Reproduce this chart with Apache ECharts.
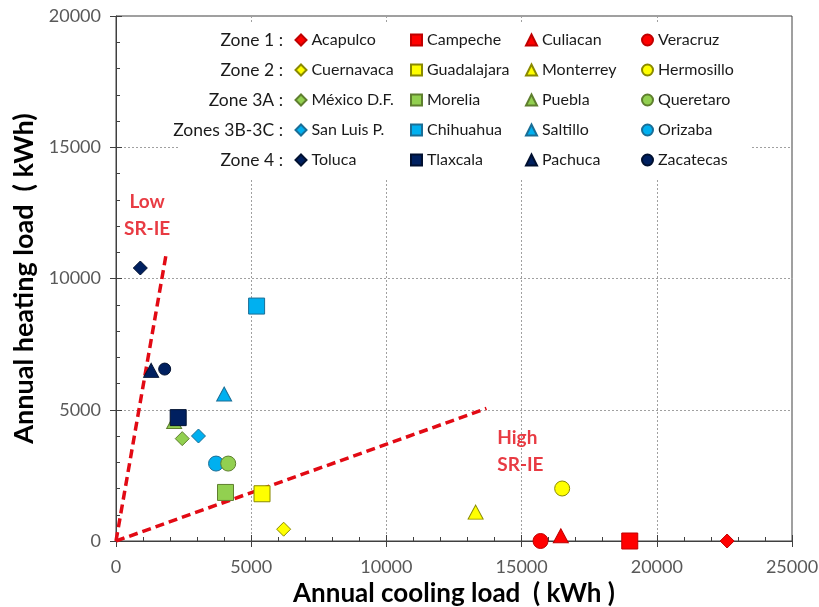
<!DOCTYPE html>
<html><head><meta charset="utf-8">
<script src="https://cdn.jsdelivr.net/npm/echarts@6/dist/echarts.min.js"></script>
<style>html,body{margin:0;padding:0;background:#fff}#c{width:819px;height:607px}</style>
</head><body><div id="c"></div>
<script>
// ---- data ----
const zoneLabels = ["Zone 1 :", "Zone 2 :", "Zone 3A :", "Zones 3B-3C :", "Zone 4 :"];
const zone1Cities = ["Acapulco", "Campeche", "Culiacan", "Veracruz"];
const zone2Cities = ["Cuernavaca", "Guadalajara", "Monterrey", "Hermosillo"];
const zone3ACities = ["México D.F.", "Morelia", "Puebla", "Queretaro"];
const zone3BCities = ["San Luis P.", "Chihuahua", "Saltillo", "Orizaba"];
const zone4Cities = ["Toluca", "Tlaxcala", "Pachuca", "Zacatecas"];
// annual cooling load (kWh), same order as cities
const zone1Cooling = [22600, 19000, 16450, 15700];
const zone2Cooling = [6200, 5400, 13300, 16500];
const zone3ACooling = [2450, 4050, 2150, 4150];
const zone3BCooling = [3050, 5200, 4000, 3700];
const zone4Cooling = [900, 2300, 1300, 1800];
// annual heating load (kWh)
const zone1Heating = [0, 0, 200, 0];
const zone2Heating = [450, 1800, 1100, 2000];
const zone3AHeating = [3900, 1850, 4550, 2950];
const zone3BHeating = [4000, 8950, 5600, 2950];
const zone4Heating = [10400, 4700, 6500, 6550];
// SR-IE boundary lines
const lowLineCooling = [0, 1850];
const lowLineHeating = [0, 10900];
const highLineCooling = [0, 13700];
const highLineHeating = [0, 5050];
// annotation labels
const annotationTexts = ["Low\nSR-IE", "High\nSR-IE"];
const annotationCooling = [1150, 14100];
const annotationHeating = [12400, 3420];
const xAxisTitle = "Annual cooling load  ( kWh )";
const yAxisTitle = "Annual heating load  ( kWh)";

// ---- styling ----
const zoneCities = [zone1Cities, zone2Cities, zone3ACities, zone3BCities, zone4Cities];
const zoneCooling = [zone1Cooling, zone2Cooling, zone3ACooling, zone3BCooling, zone4Cooling];
const zoneHeating = [zone1Heating, zone2Heating, zone3AHeating, zone3BHeating, zone4Heating];
const zoneFill = ['#ff0000', '#ffff00', '#92d050', '#00b0f0', '#002060'];
const zoneBorder = ['#c00000', '#8a8a00', '#5f7f2f', '#1a6e96', '#001030'];
const shapes = ['diamond', 'rect', 'triangle', 'circle'];
const sizes = [14, 16, [15, 14], 15];
const FONT = 'Lato';
const RED = '#e20a14';

const series = [];
series.push({
  type: 'line', name: 'low', data: lowLineCooling.map((v, i) => [v, lowLineHeating[i]]),
  symbol: 'none', z: 2, silent: true,
  lineStyle: { color: RED, width: 3.5, type: [9, 5] }
});
series.push({
  type: 'line', name: 'high', data: highLineCooling.map((v, i) => [v, highLineHeating[i]]),
  symbol: 'none', z: 2, silent: true,
  lineStyle: { color: RED, width: 3.5, type: [9, 5] }
});
zoneCities.forEach((cities, z) => {
  cities.forEach((name, k) => {
    series.push({
      type: 'scatter', name: name,
      data: [[zoneCooling[z][k], zoneHeating[z][k]]],
      symbol: shapes[k], symbolSize: (z === 4 && k === 3) ? 12 : sizes[k],
      itemStyle: { color: zoneFill[z], borderColor: zoneBorder[z], borderWidth: 1, opacity: 1 },
      z: (name === 'Queretaro') ? 4 : 3,
      emphasis: { disabled: true }, silent: true
    });
  });
});
series.push({
  type: 'scatter', name: 'annotations', symbolSize: 0, silent: true, z: 5,
  itemStyle: { color: 'transparent' },
  data: annotationTexts.map((t, i) => ({
    value: [annotationCooling[i], annotationHeating[i]],
    label: {
      show: true, position: [0, 0], formatter: t,
      align: i === 0 ? 'center' : 'left', verticalAlign: 'middle',
      fontFamily: FONT, fontWeight: 'bold', fontSize: 19, lineHeight: 27, color: RED
    }
  }))
});

const legendLeft = [294.5, 410, 525, 641];
const legends = legendLeft.map((l, k) => ({
  orient: 'vertical', left: l, top: 30, padding: 0, itemGap: 10,
  itemWidth: 11, itemHeight: 11, selectedMode: false,
  data: zoneCities.map(c => c[k]),
  textStyle: { fontFamily: FONT, fontSize: 16, color: '#1a1a1a', lineHeight: 20 }
}));

const rowY = [40, 70, 100, 130, 160];
const graphics = [{
  type: 'rect', shape: { x: 180, y: 22, width: 570, height: 156 },
  style: { fill: '#ffffff' }, z: 3, silent: true
}].concat(zoneLabels.map((t, i) => ({
  type: 'text', x: 283, y: rowY[i], z: 6, silent: true,
  style: { text: t, font: '17.5px ' + FONT, fill: '#1a1a1a', textAlign: 'right', textVerticalAlign: 'middle' }
})));

const axisCol = '#404040';
const plainNum = v => String(v);
const chart = echarts.init(document.getElementById('c'), null, { renderer: 'canvas' });
chart.setOption({
  animation: false,
  backgroundColor: '#ffffff',
  grid: { left: 116, right: 27, top: 16, bottom: 66, show: true, borderColor: axisCol, borderWidth: 1,
          backgroundColor: 'transparent', containLabel: false, outerBoundsMode: 'none' },
  xAxis: [{
    type: 'value', min: 0, max: 25000, interval: 5000, position: 'bottom',
    axisLine: { show: true, onZero: false, lineStyle: { color: axisCol } },
    axisTick: { show: true, inside: false, length: 6, lineStyle: { color: axisCol } },
    axisLabel: { fontFamily: FONT, fontSize: 18, color: '#595959', margin: 17, formatter: plainNum },
    splitLine: { show: true, lineStyle: { color: '#a0a0a0', type: [2, 2] } },
    name: xAxisTitle, nameLocation: 'middle', nameGap: 40,
    nameTextStyle: { fontFamily: FONT, fontWeight: 'bold', fontSize: 26, color: '#000' }
  }, {
    type: 'value', min: 0, max: 25000, interval: 5000, position: 'bottom',
    axisLine: { show: false },
    axisTick: { show: true, inside: true, length: 6, lineStyle: { color: axisCol } },
    minorTick: { show: true, splitNumber: 5, length: 4, lineStyle: { color: axisCol } },
    axisLabel: { show: false }, splitLine: { show: false }
  }],
  yAxis: [{
    type: 'value', min: 0, max: 20000, interval: 5000, position: 'left',
    axisLine: { show: true, onZero: false, lineStyle: { color: axisCol } },
    axisTick: { show: true, inside: false, length: 6, lineStyle: { color: axisCol } },
    axisLabel: { fontFamily: FONT, fontSize: 18, color: '#595959', margin: 15, formatter: plainNum },
    splitLine: { show: true, lineStyle: { color: '#a0a0a0', type: [2, 2] } },
    name: yAxisTitle, nameLocation: 'middle', nameGap: 72, nameRotate: 90,
    nameTextStyle: { fontFamily: FONT, fontWeight: 'bold', fontSize: 27, color: '#000' }
  }, {
    type: 'value', min: 0, max: 20000, interval: 5000, position: 'left',
    axisLine: { show: false },
    axisTick: { show: true, inside: true, length: 6, lineStyle: { color: axisCol } },
    minorTick: { show: true, splitNumber: 5, length: 4, lineStyle: { color: axisCol } },
    axisLabel: { show: false }, splitLine: { show: false }
  }],
  legend: legends,
  graphic: graphics,
  series: series
});
</script></body></html>
